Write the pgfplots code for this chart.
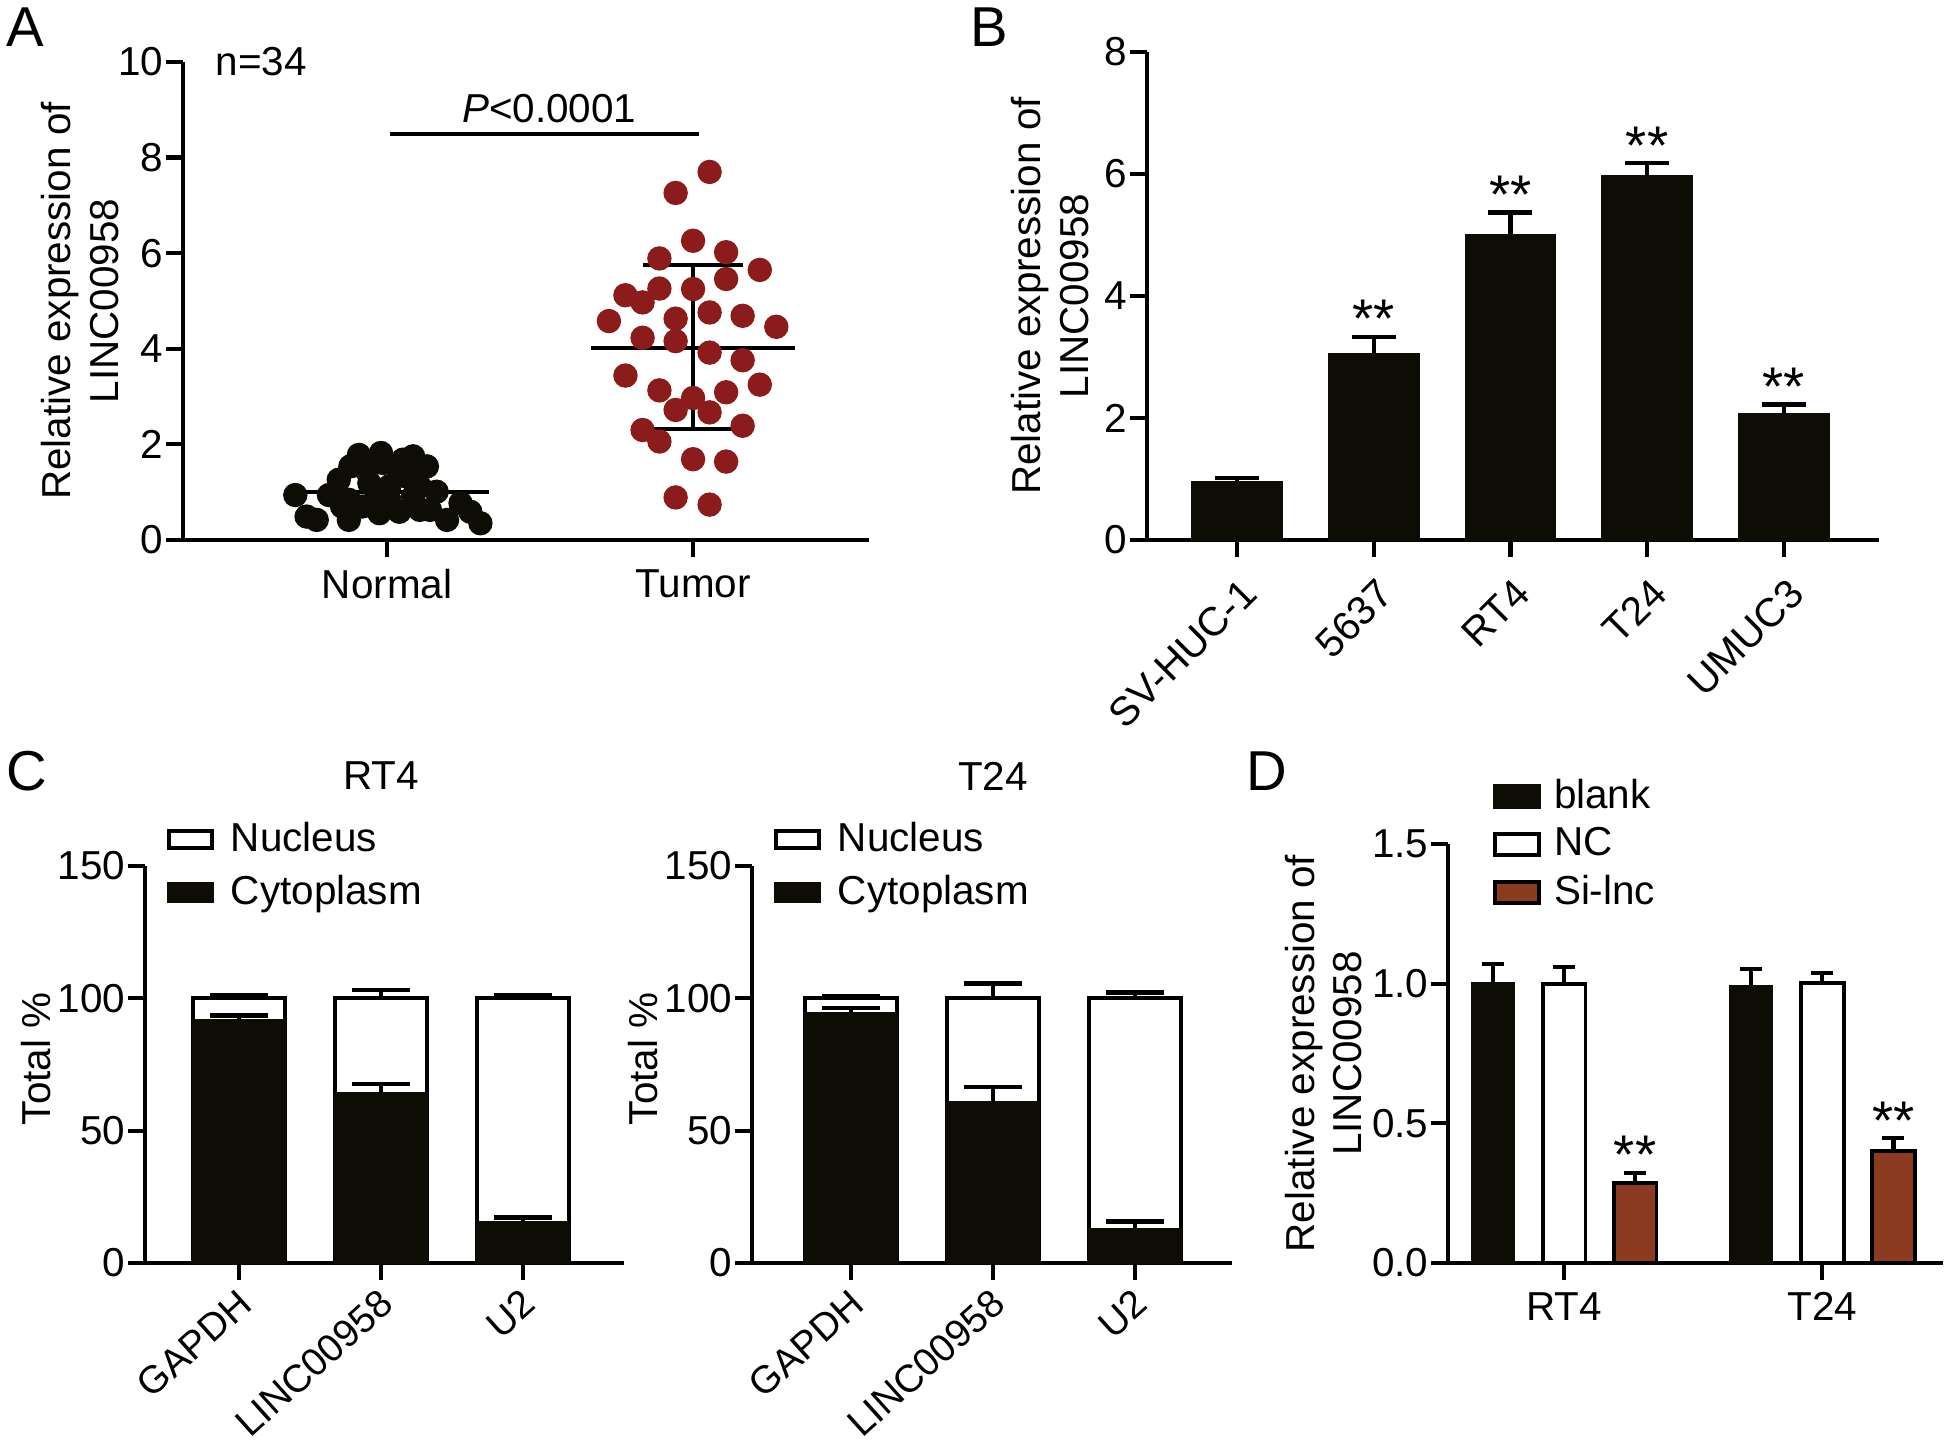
\documentclass[border=0pt]{standalone}
\usepackage{fontspec}
\setmainfont{Liberation Sans}
\usepackage{pgfplots}
\pgfplotsset{compat=1.18}

\definecolor{barblack}{RGB}{13,12,5}
\definecolor{tumred}{RGB}{140,28,28}
\definecolor{silnc}{RGB}{139,60,32}

\newcommand{\lbl}{\fontsize{11.5}{13.5}\selectfont}

\pgfplotsset{
  gp/.style={
    scale only axis, clip=false,
    axis x line=bottom, axis y line=left,
    axis line style={-, line width=1.2pt, black},
    every tick/.style={black, line width=1.2pt},
    major tick length=1.7mm,
    tick align=outside,
    tick label style={font=\lbl},
    yticklabel style={inner xsep=0.6pt},
    label style={font=\lbl},
    /pgf/number format/assume math mode=true,
    legend style={draw=none, fill=none, font=\lbl, row sep=0.45mm},
    legend cell align=left,
  },
  legC/.style={legend image code/.code={
    \draw[##1, line width=1.2pt] (0mm,-0.85mm) rectangle (4.3mm,0.85mm);
    \path[draw=none, fill=none] (4.3mm,0) -- (5.5mm,0);}},
  legD/.style={legend image code/.code={
    \draw[##1, line width=1.2pt] (0mm,-1.05mm) rectangle (4.4mm,1.05mm);
    \path[draw=none, fill=none] (4.4mm,0) -- (5.2mm,0);}},
  rotC/.style={xticklabel style={rotate=42, anchor=north east, font=\fontsize{11}{12.5}\selectfont, xshift=0.5mm, yshift=0.9mm}},
  errb/.style={
    /pgfplots/error bars/y dir=plus,
    /pgfplots/error bars/y explicit,
    /pgfplots/error bars/error bar style={line width=1.2pt, black},
    /pgfplots/error bars/error mark options={rotate=90, line width=1.2pt, black, mark size=#1},
  },
}
\tikzset{stars/.style={font=\fontsize{15.5}{16}\selectfont, anchor=base, inner sep=0pt, yshift=-0.1mm}}

\begin{document}
\begin{tikzpicture}
\useasboundingbox (0,0) rectangle (19.46,14.44);

% panel letters
\node[font=\fontsize{16}{18}\selectfont] at (0.25,14.17) {A};
\node[font=\fontsize{16}{18}\selectfont] at (9.89,14.17) {B};
\node[font=\fontsize{16}{18}\selectfont] at (0.27,6.73) {C};
\node[font=\fontsize{16}{18}\selectfont] at (12.67,6.73) {D};

% ---------------- A ----------------
\begin{axis}[gp, at={(1.83cm,9.04cm)}, anchor=south west,
  width=6.86cm, height=4.78cm,
  xmin=-0.667, xmax=1.575, ymin=0, ymax=10,
  ytick={0,2,...,10}, xtick={0,1}, xticklabels={Normal,Tumor},
  ylabel={Relative expression of\\LINC00958},
  ylabel style={at={(axis description cs:-0.150,0.5)}, anchor=center, align=center}]
% normal samples
\addplot[only marks, mark=*, mark size=1.15mm, mark options={fill=barblack, draw=barblack}] coordinates {
(-0.30,0.94) (-0.263,0.49) (-0.23,0.42) (-0.19,0.94) (-0.158,1.26) (-0.125,0.42)
(-0.12,1.54) (-0.092,1.78) (-0.02,1.82) (0.085,1.75) (0.13,1.54) (-0.081,0.70)
(-0.025,0.56) (0.04,0.59) (0.107,0.63) (0.162,1.01) (0.196,0.42) (0.24,0.77)
(0.272,0.59) (0.305,0.35) (-0.058,1.19) (0.007,1.12) (0.063,1.33) (-0.069,1.47)
(0.03,1.54) (0.107,1.12) (-0.125,0.84) (0.007,0.84) (-0.035,0.91) (0.085,0.91)
(-0.147,0.70) (0.14,0.63) (-0.013,1.61) (0.052,1.68)};
% tumor samples
\addplot[only marks, mark=*, mark size=1.15mm, mark options={fill=tumred, draw=tumred}] coordinates {
(1.054,7.70) (0.943,7.26) (1.0,6.26) (0.890,5.89) (1.108,6.02) (1.218,5.65)
(1.108,5.46) (0.890,5.26) (1.0,5.25) (0.779,5.12) (0.835,4.97) (0.725,4.58)
(0.943,4.63) (1.054,4.76) (1.162,4.69) (1.272,4.46) (0.835,4.23) (0.943,4.16)
(1.054,3.92) (1.162,3.76) (0.779,3.44) (0.890,3.13) (1.218,3.25) (1.108,3.09)
(1.0,2.97) (0.943,2.72) (1.054,2.67) (0.835,2.30) (1.162,2.39) (0.890,2.06)
(1.0,1.69) (1.108,1.64) (0.943,0.89) (1.054,0.74)};
% mean and SD
\addplot[line width=1.2pt, black] coordinates {(-0.333,1.0) (0.333,1.0)};
\addplot[line width=1.2pt, black] coordinates {(0.667,4.02) (1.333,4.02)};
\addplot[line width=1.2pt, black] coordinates {(1,2.32) (1,5.75)};
\addplot[line width=1.2pt, black] coordinates {(0.836,5.75) (1.164,5.75)};
\addplot[line width=1.2pt, black] coordinates {(0.836,2.32) (1.164,2.32)};
% significance
\addplot[line width=1.2pt, black] coordinates {(0.01,8.49) (1.02,8.49)};
\node[font=\lbl] at (axis cs:0.53,9.02) {\textit{P}<0.0001};
\node[font=\lbl, anchor=west] at (axis cs:-0.6,10) {n=34};
\end{axis}

% ---------------- B ----------------
\begin{axis}[gp, at={(11.47cm,9.04cm)}, anchor=south west,
  width=7.32cm, height=4.88cm,
  xmin=-0.658, xmax=4.696, ymin=0, ymax=8,
  ytick={0,2,...,8}, xtick={0,...,4},
  xticklabels={SV-HUC-1,5637,RT4,T24,UMUC3},
  xticklabel style={rotate=45, anchor=north east, yshift=-0.3mm},
  ylabel={Relative expression of\\LINC00958},
  ylabel style={at={(axis description cs:-0.1325,0.5)}, anchor=center, align=center}]
\addplot[ybar, bar width=0.66, bar shift=0pt, fill=barblack, draw=barblack, errb=2.2mm] coordinates {
(0,0.95) +- (0,0.07) (1,3.05) +- (0,0.28) (2,5.01) +- (0,0.36) (3,5.98) +- (0,0.20) (4,2.07) +- (0,0.15)};
\node[stars] at (axis cs:1,3.33) {**};
\node[stars] at (axis cs:2,5.37) {**};
\node[stars] at (axis cs:3,6.18) {**};
\node[stars] at (axis cs:4,2.22) {**};
\end{axis}

% ---------------- C, RT4 ----------------
\begin{axis}[gp, legC, rotC, at={(1.45cm,1.81cm)}, anchor=south west,
  width=4.79cm, height=3.97cm,
  xmin=-0.662, xmax=2.711, ymin=0, ymax=150,
  ytick={0,50,100,150}, xtick={0,1,2},
  xticklabels={GAPDH,LINC00958,U2},
  ylabel={Total \%},
  ylabel style={at={(axis description cs:-0.2276,0.514)}, anchor=center},
  legend style={at={(rel axis cs:0.022,1.147)}, anchor=north west}]
\addplot[ybar, bar width=0.648, bar shift=0pt, fill=white, draw=black, line width=1.1pt, errb=2.9mm] coordinates {
(0,100) +- (0,1.2) (1,100) +- (0,3.0) (2,100) +- (0,1.2)};
\addplot[ybar, bar width=0.648, bar shift=0pt, fill=barblack, draw=barblack, errb=2.9mm] coordinates {
(0,92.0) +- (0,1.5) (1,64.3) +- (0,3.4) (2,15.5) +- (0,1.7)};
\legend{Nucleus,Cytoplasm}
\node[font=\lbl] at (axis cs:1,150) [yshift=9mm] {RT4};
\end{axis}

% ---------------- C, T24 ----------------
\begin{axis}[gp, legC, rotC, at={(7.52cm,1.81cm)}, anchor=south west,
  width=4.80cm, height=3.97cm,
  xmin=-0.697, xmax=2.683, ymin=0, ymax=150,
  ytick={0,50,100,150}, xtick={0,1,2},
  xticklabels={GAPDH,LINC00958,U2},
  ylabel={Total \%},
  ylabel style={at={(axis description cs:-0.227,0.514)}, anchor=center},
  legend style={at={(rel axis cs:0.022,1.147)}, anchor=north west}]
\addplot[ybar, bar width=0.648, bar shift=0pt, fill=white, draw=black, line width=1.1pt, errb=2.9mm] coordinates {
(0,100) +- (0,1.0) (1,100) +- (0,5.6) (2,100) +- (0,2.2)};
\addplot[ybar, bar width=0.648, bar shift=0pt, fill=barblack, draw=barblack, errb=2.9mm] coordinates {
(0,94.5) +- (0,1.8) (1,60.8) +- (0,5.6) (2,13.1) +- (0,2.6)};
\legend{Nucleus,Cytoplasm}
\node[font=\lbl] at (axis cs:1,150) [yshift=9mm] {T24};
\end{axis}

% ---------------- D ----------------
\begin{axis}[gp, legD, at={(14.48cm,1.81cm)}, anchor=south west,
  width=4.95cm, height=4.19cm,
  xmin=-0.449, xmax=1.467, ymin=0, ymax=1.5,
  ytick={0,0.5,1,1.5}, xtick={0,1}, xticklabels={RT4,T24},
  yticklabel style={/pgf/number format/.cd, fixed, fixed zerofill, precision=1},
  ylabel={Relative expression of\\LINC00958},
  ylabel style={at={(axis description cs:-0.252,0.5)}, anchor=center, align=center},
  legend style={at={(rel axis cs:0.068,1.19)}, anchor=north west, row sep=0mm}]
\addplot[ybar, bar width=0.166, bar shift=0pt, fill=barblack, draw=barblack, errb=1.1mm] coordinates {
(-0.275,1.002) +- (0,0.069) (0.725,0.992) +- (0,0.060)};
\addplot[ybar, bar width=0.166, bar shift=0pt, fill=white, draw=black, line width=1.1pt, errb=1.1mm] coordinates {
(0,1.000) +- (0,0.060) (1,1.003) +- (0,0.036)};
\addplot[ybar, bar width=0.166, bar shift=0pt, fill=silnc, draw=black, line width=1.1pt, errb=1.1mm] coordinates {
(0.275,0.285) +- (0,0.038) (1.275,0.402) +- (0,0.045)};
\legend{blank,NC,Si-lnc}
\node[stars] at (axis cs:0.275,0.323) {**};
\node[stars] at (axis cs:1.275,0.447) {**};
\end{axis}
\end{tikzpicture}
\end{document}
